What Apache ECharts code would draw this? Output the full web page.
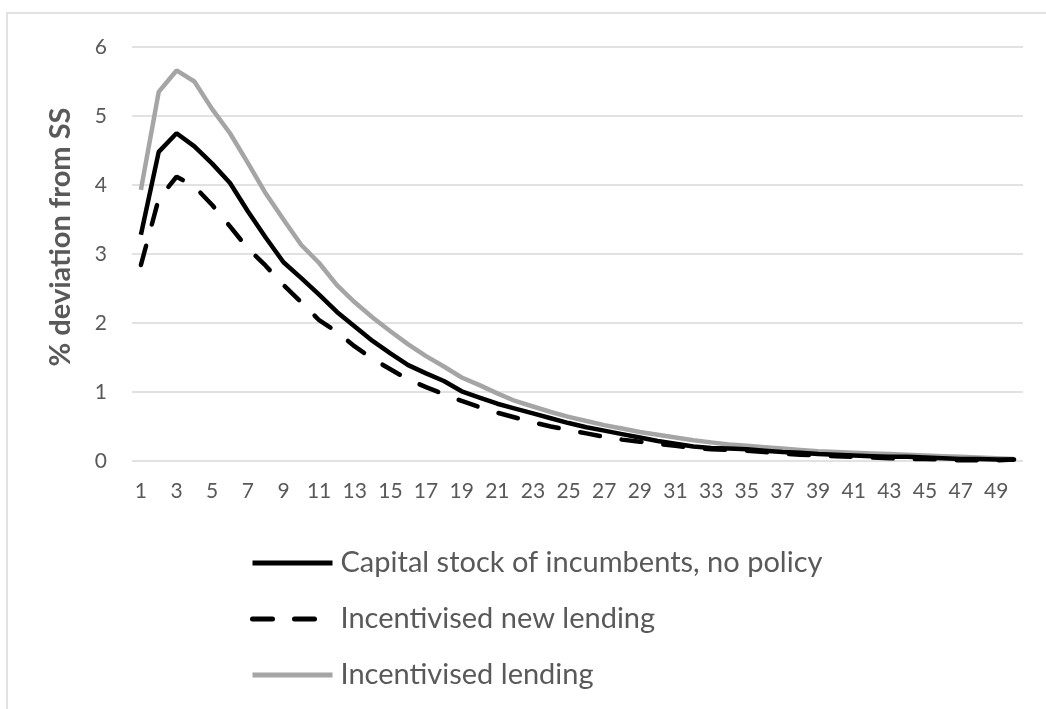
<!DOCTYPE html>
<html>
<head>
<meta charset="utf-8">
<script src="https://cdn.jsdelivr.net/npm/echarts@6/dist/echarts.min.js"></script>
<style>
  html, body { margin: 0; padding: 0; background: #fff; }
  #chart { width: 1046px; height: 709px; }
</style>
</head>
<body>
<div id="chart"></div>
<script>
// periods 1..50
const periods = Array.from({ length: 50 }, (_, i) => String(i + 1));

const seriesNames = [
  'Capital stock of incumbents, no policy',
  'Incentivised new lending',
  'Incentivised lending'
];

// % deviation from SS
const noPolicy = [
  3.28, 4.48, 4.75, 4.56, 4.31, 4.03, 3.62, 3.24, 2.88, 2.65,
  2.41, 2.16, 1.95, 1.74, 1.56, 1.39, 1.27, 1.16, 1.01, 0.92,
  0.83, 0.76, 0.69, 0.62, 0.55, 0.49, 0.44, 0.39, 0.34, 0.29,
  0.25, 0.21, 0.19, 0.18, 0.17, 0.15, 0.13, 0.12, 0.10, 0.09,
  0.08, 0.07, 0.06, 0.06, 0.05, 0.04, 0.03, 0.03, 0.02, 0.02
];
const newLending = [
  2.84, 3.80, 4.12, 3.98, 3.71, 3.40, 3.08, 2.83, 2.55, 2.30,
  2.04, 1.87, 1.66, 1.48, 1.33, 1.18, 1.07, 0.97, 0.87, 0.78,
  0.70, 0.63, 0.56, 0.50, 0.45, 0.40, 0.35, 0.31, 0.28, 0.25,
  0.22, 0.19, 0.17, 0.16, 0.15, 0.13, 0.11, 0.09, 0.08, 0.07,
  0.06, 0.05, 0.04, 0.03, 0.03, 0.02, 0.01, 0.01, 0.01, 0.02
];
const lending = [
  3.93, 5.35, 5.66, 5.50, 5.10, 4.75, 4.32, 3.88, 3.50, 3.13,
  2.87, 2.55, 2.30, 2.08, 1.88, 1.69, 1.52, 1.37, 1.21, 1.10,
  0.98, 0.87, 0.79, 0.71, 0.64, 0.58, 0.52, 0.47, 0.42, 0.38,
  0.34, 0.30, 0.27, 0.24, 0.22, 0.20, 0.18, 0.16, 0.14, 0.13,
  0.12, 0.11, 0.10, 0.09, 0.08, 0.07, 0.06, 0.05, 0.04, 0.03
];

const yTicks = { min: 0, max: 6, interval: 1 };

const font = 'Lato, "Open Sans", sans-serif';
const textColor = '#595959';
const gridColor = '#d9d9d9';

const chart = echarts.init(document.getElementById('chart'));

const option = {
  animation: false,
  textStyle: { fontFamily: font },
  // chart area border
  graphic: [{
    type: 'rect',
    shape: { x: 7, y: 13, width: 1100, height: 800 },
    style: { fill: 'none', stroke: gridColor, lineWidth: 1.5 },
    silent: true
  }],
  grid: {
    left: 132,
    right: 23,
    top: 47,
    bottom: 248
  },
  legend: {
    orient: 'vertical',
    left: 250,
    top: 548,
    padding: 0,
    itemWidth: 80,
    itemHeight: 14,
    itemGap: 26,
    data: seriesNames,
    itemStyle: { opacity: 0, borderWidth: 0 },
    lineStyle: { width: 5 },
    textStyle: {
      fontFamily: font, fontSize: 29, lineHeight: 30,
      color: textColor, padding: [0, 0, 0, 3]
    }
  },
  xAxis: {
    type: 'category',
    data: periods,
    boundaryGap: true,
    axisLine: { show: false },
    axisTick: { show: false },
    axisLabel: {
      interval: 1,
      margin: 20,
      fontSize: 21,
      color: textColor,
      fontFamily: font
    }
  },
  yAxis: {
    type: 'value',
    min: yTicks.min,
    max: yTicks.max,
    interval: yTicks.interval,
    name: '% deviation from SS',
    nameLocation: 'middle',
    nameGap: 57,
    nameTextStyle: {
      fontFamily: font, fontSize: 29, fontWeight: 'bold', color: textColor,
      padding: [0, 0, 0, 34]
    },
    axisLine: { show: false },
    axisTick: { show: false },
    axisLabel: { margin: 25, fontSize: 21, color: textColor, fontFamily: font },
    splitLine: { lineStyle: { color: gridColor, width: 1.5 } }
  },
  series: [
    {
      name: seriesNames[0],
      type: 'line',
      data: noPolicy,
      symbol: 'none',
      z: 3,
      lineStyle: { color: '#000', width: 4.5 },
      itemStyle: { color: '#000' }
    },
    {
      name: seriesNames[1],
      type: 'line',
      data: newLending,
      symbol: 'none',
      z: 2,
      lineStyle: { color: '#000', width: 4.5, type: [20, 22], cap: 'round' },
      itemStyle: { color: '#000' }
    },
    {
      name: seriesNames[2],
      type: 'line',
      data: lending,
      symbol: 'none',
      z: 1,
      lineStyle: { color: '#a5a5a5', width: 4.5 },
      itemStyle: { color: '#a5a5a5' }
    }
  ]
};

chart.setOption(option);
</script>
</body>
</html>
